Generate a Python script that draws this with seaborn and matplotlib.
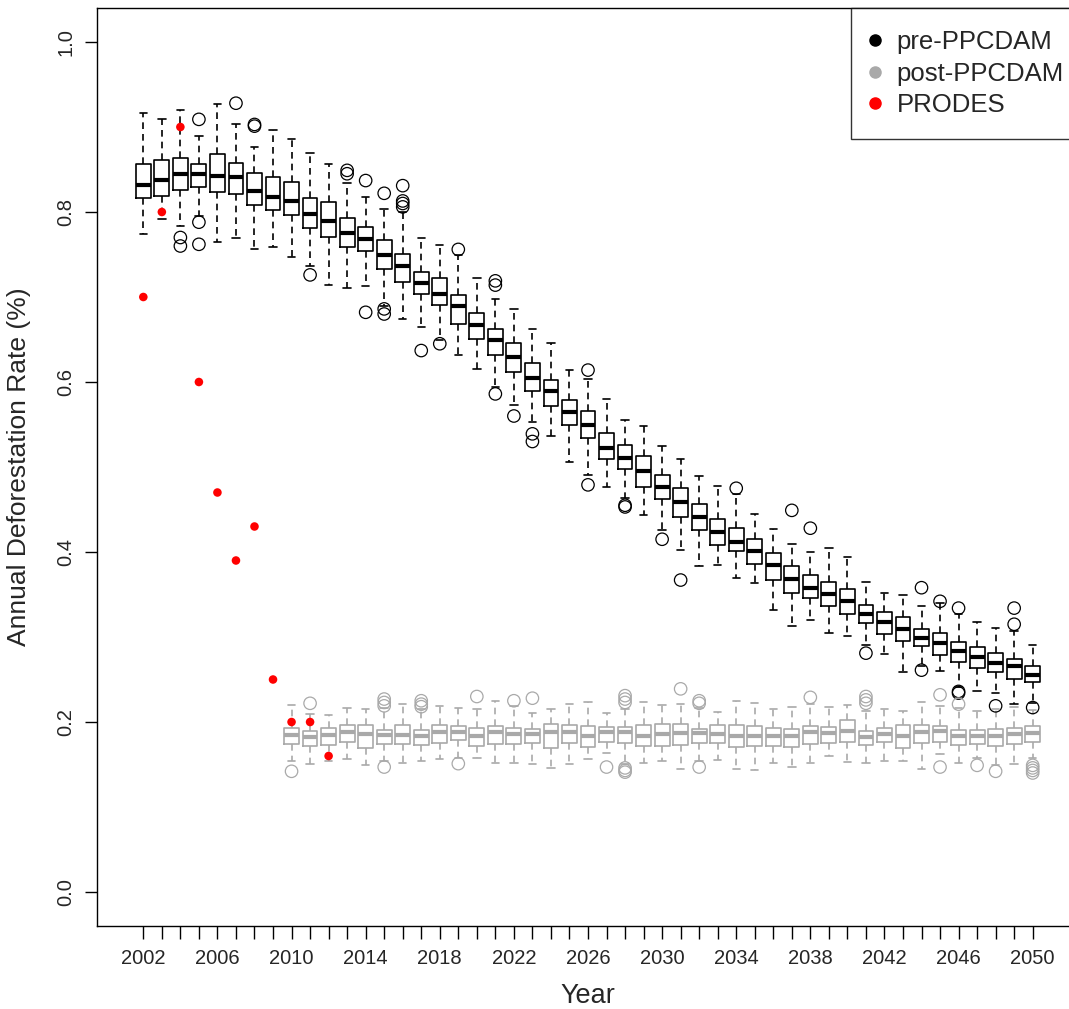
import numpy as np
import pandas as pd
import seaborn as sns
import matplotlib.pyplot as plt
from matplotlib.lines import Line2D

# simulated annual deforestation rate, five-number summaries
pre_years = list(range(2002, 2051))
pre_low = [0.774, 0.792, 0.783, 0.795, 0.765, 0.769, 0.756, 0.759, 0.747, 0.736,
           0.714, 0.711, 0.713, 0.690, 0.674, 0.665, 0.650, 0.632, 0.615, 0.594,
           0.573, 0.553, 0.537, 0.506, 0.491, 0.477, 0.464, 0.444, 0.426, 0.402,
           0.384, 0.385, 0.369, 0.364, 0.332, 0.313, 0.320, 0.305, 0.301, 0.291,
           0.280, 0.259, 0.266, 0.260, 0.241, 0.236, 0.234, 0.221, 0.222]
pre_q1 = [0.816, 0.819, 0.826, 0.830, 0.823, 0.821, 0.808, 0.802, 0.796, 0.781,
          0.771, 0.759, 0.754, 0.733, 0.718, 0.704, 0.691, 0.668, 0.651, 0.632,
          0.612, 0.589, 0.572, 0.549, 0.534, 0.510, 0.498, 0.477, 0.462, 0.441,
          0.426, 0.408, 0.401, 0.386, 0.367, 0.352, 0.346, 0.336, 0.327, 0.316,
          0.304, 0.295, 0.290, 0.279, 0.271, 0.264, 0.259, 0.251, 0.247]
pre_med = [0.832, 0.838, 0.845, 0.845, 0.842, 0.841, 0.825, 0.818, 0.813, 0.798,
           0.790, 0.775, 0.768, 0.750, 0.736, 0.717, 0.704, 0.689, 0.667, 0.650,
           0.629, 0.605, 0.589, 0.565, 0.549, 0.522, 0.511, 0.495, 0.476, 0.459,
           0.441, 0.424, 0.412, 0.401, 0.385, 0.368, 0.358, 0.351, 0.342, 0.327,
           0.318, 0.309, 0.299, 0.293, 0.284, 0.277, 0.269, 0.266, 0.255]
pre_q3 = [0.857, 0.861, 0.864, 0.857, 0.868, 0.858, 0.846, 0.841, 0.835, 0.817,
          0.812, 0.793, 0.782, 0.767, 0.751, 0.730, 0.722, 0.702, 0.681, 0.662,
          0.646, 0.622, 0.602, 0.579, 0.566, 0.540, 0.526, 0.513, 0.491, 0.475,
          0.456, 0.439, 0.428, 0.415, 0.399, 0.383, 0.373, 0.365, 0.356, 0.338,
          0.329, 0.323, 0.310, 0.305, 0.294, 0.288, 0.281, 0.274, 0.266]
pre_high = [0.916, 0.909, 0.920, 0.889, 0.927, 0.904, 0.877, 0.897, 0.886, 0.869,
            0.856, 0.834, 0.818, 0.804, 0.800, 0.769, 0.761, 0.750, 0.722, 0.698,
            0.686, 0.662, 0.646, 0.614, 0.604, 0.580, 0.555, 0.548, 0.525, 0.510,
            0.489, 0.478, 0.468, 0.445, 0.427, 0.409, 0.400, 0.405, 0.394, 0.365,
            0.352, 0.350, 0.337, 0.340, 0.327, 0.318, 0.311, 0.307, 0.291]

pre_out_year = [2004, 2004, 2005, 2005, 2005, 2007, 2008, 2008, 2011, 2013, 2013,
                2014, 2014, 2015, 2015, 2015, 2016, 2016, 2016, 2016, 2017, 2018,
                2019, 2021, 2021, 2021, 2022, 2023, 2023, 2026, 2026, 2028, 2028,
                2030, 2031, 2034, 2037, 2038, 2041, 2044, 2044, 2045, 2046, 2046,
                2046, 2048, 2049, 2049, 2050]
pre_out_val = [0.770, 0.760, 0.909, 0.788, 0.762, 0.928, 0.903, 0.901, 0.726, 0.849, 0.845,
               0.837, 0.682, 0.822, 0.686, 0.680, 0.831, 0.813, 0.810, 0.806, 0.637, 0.645,
               0.756, 0.719, 0.714, 0.586, 0.560, 0.539, 0.530, 0.614, 0.479, 0.455, 0.453,
               0.415, 0.367, 0.475, 0.449, 0.428, 0.281, 0.358, 0.261, 0.342, 0.334, 0.236,
               0.234, 0.219, 0.334, 0.315, 0.217]

post_years = list(range(2010, 2051))
post_low = [0.154, 0.151, 0.154, 0.156, 0.150, 0.154, 0.152, 0.154, 0.157, 0.158,
            0.158, 0.152, 0.152, 0.151, 0.146, 0.151, 0.156, 0.164, 0.151, 0.152,
            0.154, 0.145, 0.154, 0.155, 0.145, 0.143, 0.152, 0.147, 0.152, 0.160,
            0.153, 0.152, 0.154, 0.154, 0.145, 0.162, 0.152, 0.158, 0.149, 0.151,
            0.158]
post_q1 = [0.174, 0.172, 0.173, 0.176, 0.169, 0.174, 0.174, 0.173, 0.175, 0.179,
           0.172, 0.174, 0.174, 0.175, 0.169, 0.175, 0.171, 0.177, 0.175, 0.172,
           0.172, 0.173, 0.175, 0.175, 0.171, 0.172, 0.172, 0.171, 0.174, 0.175,
           0.177, 0.173, 0.176, 0.170, 0.175, 0.176, 0.173, 0.174, 0.172, 0.174,
           0.177]
post_med = [0.185, 0.182, 0.185, 0.188, 0.186, 0.185, 0.185, 0.184, 0.188, 0.188,
            0.184, 0.188, 0.186, 0.186, 0.188, 0.188, 0.184, 0.188, 0.188, 0.184,
            0.186, 0.187, 0.187, 0.186, 0.184, 0.184, 0.183, 0.184, 0.188, 0.187,
            0.189, 0.182, 0.186, 0.184, 0.188, 0.189, 0.184, 0.184, 0.184, 0.186,
            0.187]
post_q3 = [0.193, 0.190, 0.193, 0.197, 0.197, 0.191, 0.196, 0.191, 0.197, 0.195,
           0.193, 0.195, 0.193, 0.192, 0.198, 0.196, 0.195, 0.194, 0.194, 0.197,
           0.198, 0.198, 0.192, 0.197, 0.197, 0.195, 0.193, 0.192, 0.195, 0.194,
           0.202, 0.189, 0.193, 0.196, 0.197, 0.195, 0.191, 0.191, 0.192, 0.193,
           0.195]
post_high = [0.220, 0.210, 0.208, 0.216, 0.215, 0.217, 0.221, 0.215, 0.219, 0.217,
             0.215, 0.225, 0.219, 0.211, 0.215, 0.221, 0.224, 0.211, 0.215, 0.224,
             0.220, 0.221, 0.217, 0.212, 0.225, 0.222, 0.215, 0.218, 0.221, 0.218,
             0.220, 0.213, 0.215, 0.213, 0.224, 0.219, 0.217, 0.213, 0.215, 0.218,
             0.214]

post_out_year = [2010, 2011, 2015, 2015, 2015, 2015, 2017, 2017, 2017, 2019, 2020,
                 2022, 2023, 2027, 2028, 2028, 2028, 2028, 2028, 2028, 2031, 2032,
                 2032, 2032, 2038, 2041, 2041, 2041, 2045, 2045, 2046, 2047, 2048,
                 2050, 2050, 2050, 2050]
post_out_val = [0.142, 0.222, 0.227, 0.223, 0.219, 0.147, 0.225, 0.221, 0.218, 0.151, 0.230,
                0.225, 0.228, 0.147, 0.231, 0.227, 0.223, 0.146, 0.143, 0.141, 0.239, 0.225,
                0.222, 0.147, 0.229, 0.230, 0.226, 0.222, 0.232, 0.147, 0.221, 0.149, 0.142,
                0.149, 0.146, 0.143, 0.140]

# observed PRODES rates
prodes_years = [2002, 2003, 2004, 2005, 2006, 2007, 2008, 2009, 2010, 2011, 2012]
prodes_rate = [0.70, 0.80, 0.90, 0.60, 0.47, 0.39, 0.43, 0.25, 0.20, 0.20, 0.16]

all_years = list(range(2002, 2051))
label_years = all_years[::4]

GREY = '#a9a9a9'


def five_num_frame(years, lo, q1, med, q3, hi):
    # 5 points per year -> np.percentile gives back exactly q1/median/q3
    rows = []
    for i, yr in enumerate(years):
        for v in (lo[i], q1[i], med[i], q3[i], hi[i]):
            rows.append({'year': yr, 'rate': v})
    return pd.DataFrame(rows)


df_pre = five_num_frame(pre_years, pre_low, pre_q1, pre_med, pre_q3, pre_high)
df_post = five_num_frame(post_years, post_low, post_q1, post_med, post_q3, post_high)
df_pre_out = pd.DataFrame({'year': pre_out_year, 'rate': pre_out_val})
df_post_out = pd.DataFrame({'year': post_out_year, 'rate': post_out_val})
df_prodes = pd.DataFrame({'year': prodes_years, 'rate': prodes_rate})

sns.set_style('ticks')
plt.rcParams['font.family'] = ['Liberation Sans', 'DejaVu Sans']

fig = plt.figure(figsize=(10.69, 10.09), dpi=100)
ax = fig.add_axes([97 / 1069, 83 / 1009, 982 / 1069, 918 / 1009])

for df, col in [(df_pre, 'black'), (df_post, GREY)]:
    sns.boxplot(data=df, x='year', y='rate', native_scale=True, width=0.8,
                whis=(0, 100), fill=False, color=col, linewidth=1.2,
                showfliers=False,
                medianprops=dict(linewidth=3.0, color=col),
                whiskerprops=dict(linestyle=(0, (4, 3)), color=col),
                capprops=dict(color=col),
                boxprops=dict(color=col),
                ax=ax)

sns.scatterplot(data=df_pre_out, x='year', y='rate', marker='o', s=80,
                facecolor='none', edgecolor='black', linewidth=0.9, ax=ax, zorder=3)
sns.scatterplot(data=df_post_out, x='year', y='rate', marker='o', s=80,
                facecolor='none', edgecolor=GREY, linewidth=0.9, ax=ax, zorder=3)
sns.scatterplot(data=df_prodes, x='year', y='rate', marker='o', s=38,
                color='red', edgecolor='none', ax=ax, zorder=4)

ax.set_xlim(1999.5, 2052.5)
ax.set_ylim(-0.04, 1.04)
ax.set_xticks(all_years)
ax.set_xticklabels([str(y) if y in label_years else '' for y in all_years])
ax.set_yticks([0.0, 0.2, 0.4, 0.6, 0.8, 1.0])
ax.set_yticklabels(['0.0', '0.2', '0.4', '0.6', '0.8', '1.0'], rotation=90, va='center')
ax.tick_params(axis='both', direction='out', length=9, width=1, color='black',
               labelsize=14.5)
ax.tick_params(axis='x', pad=7.5)
ax.tick_params(axis='y', pad=6.5)
for sp in ax.spines.values():
    sp.set_visible(True)
    sp.set_color('black')
    sp.set_linewidth(1)

ax.set_xlabel('Year', fontsize=19.5, labelpad=11)
ax.set_ylabel('Annual Deforestation Rate (%)', fontsize=19, labelpad=18)

handles = [Line2D([], [], marker='o', linestyle='none', color=c, markersize=8)
           for c in ['black', GREY, 'red']]
leg = fig.legend(handles, ['pre-PPCDAM', 'post-PPCDAM', 'PRODES'],
                 loc='upper left', bbox_to_anchor=(851 / 1069, 1 - 8 / 1009),
                 bbox_transform=fig.transFigure, borderaxespad=0,
                 fontsize=18.5, frameon=True, fancybox=False, edgecolor='black',
                 handlelength=0.2, handletextpad=0.73, labelspacing=0.3,
                 borderpad=0.85)
leg.get_frame().set_linewidth(1)

plt.savefig('out.png', dpi=100)
